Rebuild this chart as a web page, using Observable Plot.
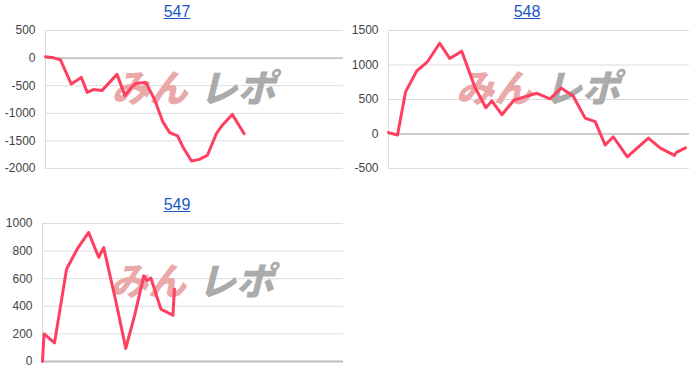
<!DOCTYPE html>
<html>
<head>
<meta charset="utf-8">
<script src="https://cdn.jsdelivr.net/npm/d3@7"></script>
<script src="https://cdn.jsdelivr.net/npm/@observablehq/plot@0.6"></script>
<style>
  body { margin: 0; background: #fff; font-family: "Liberation Sans", Arial, sans-serif; }
  #wrap { position: relative; width: 700px; height: 384px; overflow: hidden; }
  .panel { position: absolute; width: 350px; }
  .panel svg { position: absolute; left: 0; }
  .title { position: absolute; left: 2px; width: 350px; text-align: center; font-size: 16px; line-height: 18px; }
  .title a { color: #1a56c6; text-decoration: underline; }
</style>
</head>
<body>
<div id="wrap"></div>
<script>
// Machine numbers shown above each chart
const machines = ["547", "548", "549"];

// Machine 547: position along the day (0–300) and coin difference
const pos547  = [0, 8, 15, 26, 36, 42, 48, 57, 72, 80, 87, 91, 95, 101, 110, 118, 125, 133, 138, 147, 155, 163, 172, 178, 188, 200];
const diff547 = [25, 5, -30, -470, -350, -620, -570, -585, -295, -680, -520, -460, -450, -440, -760, -1150, -1350, -1410, -1600, -1865, -1835, -1760, -1370, -1215, -1020, -1370];

// Machine 548
const pos548  = [0, 9, 17, 28, 39, 51, 61, 73, 86, 97, 103, 113, 125, 137, 148, 161, 172, 184, 196, 206, 216, 224, 238, 259, 271, 285, 287, 296];
const diff548 = [20, -15, 610, 910, 1050, 1315, 1095, 1200, 680, 380, 480, 280, 490, 545, 590, 510, 665, 550, 230, 180, -160, -40, -330, -60, -205, -310, -265, -200];

// Machine 549
const pos549  = [0, 1.5, 12, 24, 35, 46, 56, 61, 73, 83, 92, 101, 104, 108, 118, 130, 131.5];
const diff549 = [0, 200, 135, 670, 820, 935, 755, 825, 440, 95, 340, 620, 585, 605, 380, 335, 525];

// Y-axis ticks per chart
const ticks547 = [-2000, -1500, -1000, -500, 0, 500];
const ticks548 = [-500, 0, 500, 1000, 1500];
const ticks549 = [0, 200, 400, 600, 800, 1000];

const wrap = document.getElementById("wrap");

function panel({name, pos, diff, ticks, left, top, marginLeft, marginRight, zeroIsBase}) {
  const div = document.createElement("div");
  div.className = "panel";
  div.style.left = left + "px";
  div.style.top = top + "px";

  const title = document.createElement("div");
  title.className = "title";
  title.style.top = "3px";
  const a = document.createElement("a");
  a.href = "#";
  a.textContent = name;
  title.appendChild(a);
  div.appendChild(title);

  const data = pos.map((p, i) => ({pos: p, diff: diff[i]}));
  // site logo drawn faintly behind the line
  const wm = {frameAnchor: "middle", dy: -10, fontSize: 38, fontWeight: 900,
              fontStyle: "italic", fontFamily: "'Noto Sans CJK JP', sans-serif"};

  const chart = Plot.plot({
    width: 350,
    height: 158,
    marginTop: 10,
    marginBottom: 10,
    marginLeft,
    marginRight,
    style: {color: "#444", fontFamily: "'Liberation Sans', Arial, sans-serif", background: "transparent", overflow: "visible"},
    x: {domain: [0, 300], axis: null},
    y: {domain: [ticks[0], ticks[ticks.length - 1]], axis: null},
    marks: [
      Plot.gridY(ticks, {stroke: "#dcdcdc", strokeOpacity: 1}),
      Plot.ruleX([0], {stroke: "#dcdcdc"}),
      zeroIsBase
        ? Plot.ruleY([0], {stroke: "#bdbdbd", strokeWidth: 2})
        : Plot.ruleY([0], {stroke: "#a8a8a8"}),
      Plot.axisY(ticks, {tickSize: 0, tickPadding: 10, fontSize: 12, label: null, tickFormat: d => String(d)}),
      Plot.text(["みん"], {...wm, text: d => d, dx: -45, fill: "#eaa9a9"}),
      Plot.text(["レポ"], {...wm, text: d => d, dx: 43, fill: "#ababab"}),
      Plot.line(data, {x: "pos", y: "diff", stroke: "#fe3f5f", strokeWidth: 3,
                       strokeLinejoin: "round", strokeLinecap: "round"})
    ]
  });
  chart.style.top = "20px";
  div.appendChild(chart);
  wrap.appendChild(div);
}

panel({name: machines[0], pos: pos547, diff: diff547, ticks: ticks547,
       left: 0, top: 0, marginLeft: 45, marginRight: 7, zeroIsBase: false});
panel({name: machines[1], pos: pos548, diff: diff548, ticks: ticks548,
       left: 350, top: 0, marginLeft: 38, marginRight: 11, zeroIsBase: false});
panel({name: machines[2], pos: pos549, diff: diff549, ticks: ticks549,
       left: 0, top: 193, marginLeft: 42, marginRight: 7, zeroIsBase: true});
</script>
</body>
</html>
